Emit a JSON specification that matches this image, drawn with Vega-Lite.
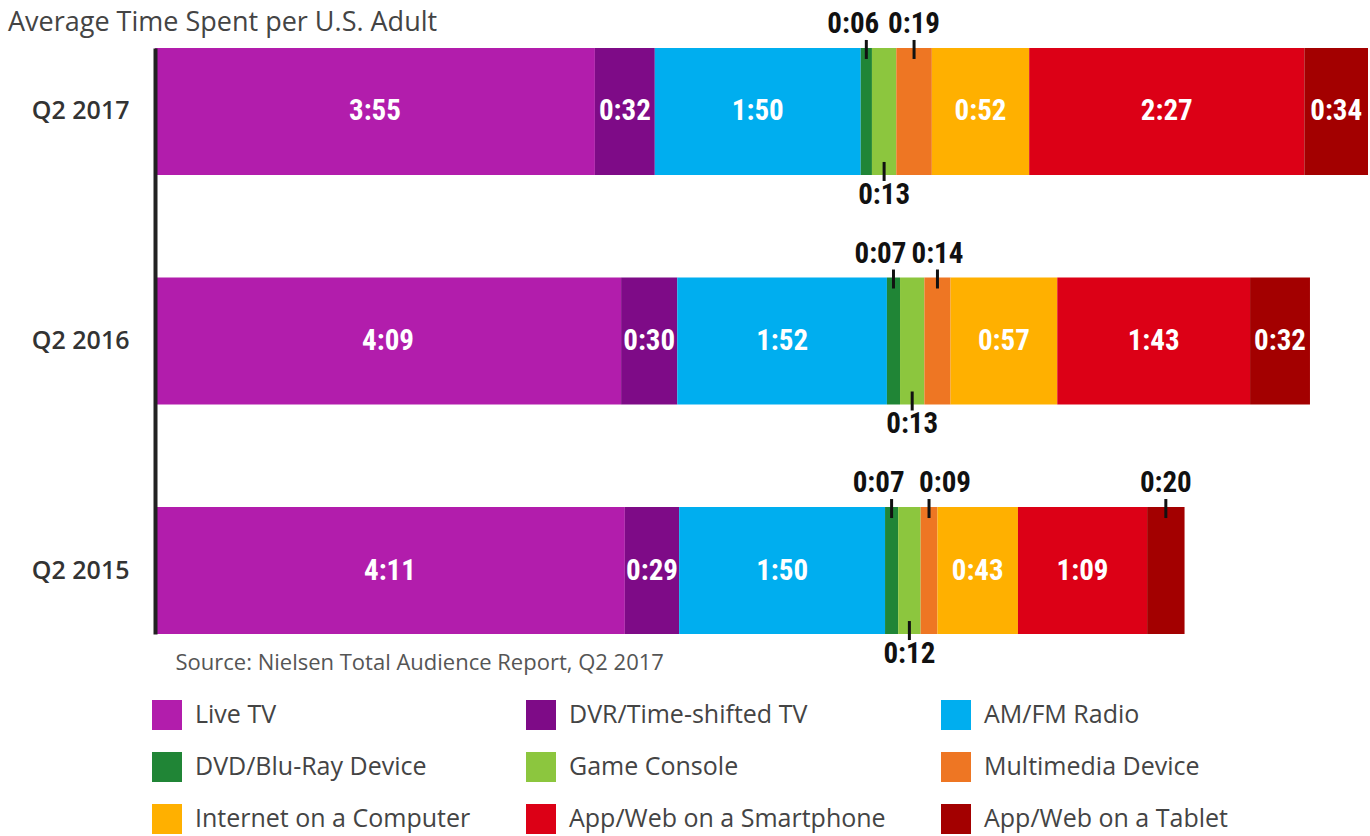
{
  "$schema": "https://vega.github.io/schema/vega-lite/v6.json",
  "width": 1213,
  "height": 586,
  "autosize": {"type": "none"},
  "padding": {"left": 155, "top": 48, "right": 2, "bottom": 202},
  "background": "white",
  "title": {
    "text": "Average Time Spent per U.S. Adult",
    "anchor": "start",
    "frame": "group",
    "dx": -147,
    "offset": -27,
    "font": "Open Sans",
    "fontSize": 27,
    "fontWeight": "normal",
    "color": "#444444"
  },
  "config": {
    "view": {"stroke": null},
    "legend": {
      "orient": "none",
      "legendX": -3,
      "legendY": 652,
      "direction": "horizontal",
      "columns": 3,
      "symbolType": "square",
      "symbolSize": 900,
      "symbolStrokeWidth": 0,
      "symbolOpacity": 1,
      "labelFont": "Open Sans",
      "labelFontSize": 25,
      "labelColor": "#444444",
      "labelOffset": 13,
      "labelLimit": 0,
      "rowPadding": 22,
      "columnPadding": 55,
      "title": null
    }
  },
  "data": {
    "values": [
      {"quarter": "Q2 2017", "category": "Live TV", "minutes": 235, "label": "3:55", "order": 1},
      {"quarter": "Q2 2017", "category": "DVR/Time-shifted TV", "minutes": 32, "label": "0:32", "order": 2},
      {"quarter": "Q2 2017", "category": "AM/FM Radio", "minutes": 110, "label": "1:50", "order": 3},
      {"quarter": "Q2 2017", "category": "DVD/Blu-Ray Device", "minutes": 6, "label": "0:06", "order": 4},
      {"quarter": "Q2 2017", "category": "Game Console", "minutes": 13, "label": "0:13", "order": 5},
      {"quarter": "Q2 2017", "category": "Multimedia Device", "minutes": 19, "label": "0:19", "order": 6},
      {"quarter": "Q2 2017", "category": "Internet on a Computer", "minutes": 52, "label": "0:52", "order": 7},
      {"quarter": "Q2 2017", "category": "App/Web on a Smartphone", "minutes": 147, "label": "2:27", "order": 8},
      {"quarter": "Q2 2017", "category": "App/Web on a Tablet", "minutes": 34, "label": "0:34", "order": 9},
      {"quarter": "Q2 2016", "category": "Live TV", "minutes": 249, "label": "4:09", "order": 1},
      {"quarter": "Q2 2016", "category": "DVR/Time-shifted TV", "minutes": 30, "label": "0:30", "order": 2},
      {"quarter": "Q2 2016", "category": "AM/FM Radio", "minutes": 112, "label": "1:52", "order": 3},
      {"quarter": "Q2 2016", "category": "DVD/Blu-Ray Device", "minutes": 7, "label": "0:07", "order": 4},
      {"quarter": "Q2 2016", "category": "Game Console", "minutes": 13, "label": "0:13", "order": 5},
      {"quarter": "Q2 2016", "category": "Multimedia Device", "minutes": 14, "label": "0:14", "order": 6},
      {"quarter": "Q2 2016", "category": "Internet on a Computer", "minutes": 57, "label": "0:57", "order": 7},
      {"quarter": "Q2 2016", "category": "App/Web on a Smartphone", "minutes": 103, "label": "1:43", "order": 8},
      {"quarter": "Q2 2016", "category": "App/Web on a Tablet", "minutes": 32, "label": "0:32", "order": 9},
      {"quarter": "Q2 2015", "category": "Live TV", "minutes": 251, "label": "4:11", "order": 1},
      {"quarter": "Q2 2015", "category": "DVR/Time-shifted TV", "minutes": 29, "label": "0:29", "order": 2},
      {"quarter": "Q2 2015", "category": "AM/FM Radio", "minutes": 110, "label": "1:50", "order": 3},
      {"quarter": "Q2 2015", "category": "DVD/Blu-Ray Device", "minutes": 7, "label": "0:07", "order": 4},
      {"quarter": "Q2 2015", "category": "Game Console", "minutes": 12, "label": "0:12", "order": 5},
      {"quarter": "Q2 2015", "category": "Multimedia Device", "minutes": 9, "label": "0:09", "order": 6},
      {"quarter": "Q2 2015", "category": "Internet on a Computer", "minutes": 43, "label": "0:43", "order": 7},
      {"quarter": "Q2 2015", "category": "App/Web on a Smartphone", "minutes": 69, "label": "1:09", "order": 8},
      {"quarter": "Q2 2015", "category": "App/Web on a Tablet", "minutes": 20, "label": "0:20", "order": 9}
    ]
  },
  "transform": [
    {"stack": "minutes", "groupby": ["quarter"], "sort": [{"field": "order", "order": "ascending"}], "as": ["x0", "x1"]},
    {"calculate": "(datum.x0 + datum.x1) / 2", "as": "xmid"}
  ],
  "layer": [
    {
      "mark": {"type": "bar", "stroke": null},
      "encoding": {
        "x": {
          "field": "x0", "type": "quantitative",
          "scale": {"domain": [0, 648], "nice": false, "zero": true},
          "axis": {
            "labels": false, "ticks": false, "domain": false, "grid": false,
            "title": "Source: Nielsen Total Audience Report, Q2 2017",
            "titleAnchor": "start", "titleAlign": "left", "titleX": 20, "titleY": 28,
            "titleBaseline": "middle", "titleFont": "Open Sans", "titleFontSize": 22,
            "titleFontWeight": "normal", "titleColor": "#555555"
          }
        },
        "x2": {"field": "x1"},
        "y": {
          "field": "quarter", "type": "nominal",
          "sort": ["Q2 2017", "Q2 2016", "Q2 2015"],
          "scale": {"paddingInner": 0.447, "paddingOuter": 0},
          "axis": {
            "title": null, "ticks": false, "labelPadding": 26,
            "labelFont": "Open Sans", "labelFontSize": 25, "labelFontWeight": 600,
            "labelColor": "#333333", "domainColor": "#222222", "domainWidth": 4,
            "zindex": 1
          }
        },
        "color": {
          "field": "category", "type": "nominal",
          "scale": {
            "domain": ["Live TV", "DVR/Time-shifted TV", "AM/FM Radio", "DVD/Blu-Ray Device", "Game Console", "Multimedia Device", "Internet on a Computer", "App/Web on a Smartphone", "App/Web on a Tablet"],
            "range": ["#B21DAC", "#7E0B87", "#00AEEF", "#208536", "#8CC63E", "#EE7623", "#FFB000", "#DC0016", "#A30000"]
          }
        }
      }
    },
    {
      "transform": [{"filter": "datum.category != 'DVD/Blu-Ray Device' && datum.category != 'Game Console' && datum.category != 'Multimedia Device' && !(datum.category == 'App/Web on a Tablet' && datum.quarter == 'Q2 2015')"}],
      "mark": {"type": "text", "color": "white", "font": "Liberation Sans Narrow, Roboto Condensed, DejaVu Sans Condensed, sans-serif", "fontWeight": "bold", "fontSize": 29, "baseline": "middle", "align": "center"},
      "encoding": {
        "x": {"field": "xmid", "type": "quantitative"},
        "y": {"field": "quarter", "type": "nominal", "sort": ["Q2 2017", "Q2 2016", "Q2 2015"]},
        "text": {"field": "label"}
      }
    },
    {
      "transform": [{"filter": "datum.category == 'DVD/Blu-Ray Device' || datum.category == 'Multimedia Device' || (datum.category == 'App/Web on a Tablet' && datum.quarter == 'Q2 2015')"}],
      "mark": {"type": "tick", "orient": "vertical", "size": 19, "thickness": 3, "color": "#111111", "opacity": 1, "yOffset": -62},
      "encoding": {
        "x": {"field": "xmid", "type": "quantitative"},
        "y": {"field": "quarter", "type": "nominal", "sort": ["Q2 2017", "Q2 2016", "Q2 2015"]}
      }
    },
    {
      "transform": [{"filter": "datum.category == 'Game Console'"}],
      "mark": {"type": "tick", "orient": "vertical", "size": 19, "thickness": 3, "color": "#111111", "opacity": 1, "yOffset": 60},
      "encoding": {
        "x": {"field": "xmid", "type": "quantitative"},
        "y": {"field": "quarter", "type": "nominal", "sort": ["Q2 2017", "Q2 2016", "Q2 2015"]}
      }
    },
    {
      "transform": [{"filter": "datum.category == 'DVD/Blu-Ray Device'"}],
      "mark": {"type": "text", "color": "#111111", "font": "Liberation Sans Narrow, Roboto Condensed, DejaVu Sans Condensed, sans-serif", "fontWeight": "bold", "fontSize": 29, "baseline": "alphabetic", "align": "center", "dy": -15, "dx": -13},
      "encoding": {
        "x": {"field": "xmid", "type": "quantitative"},
        "y": {"field": "quarter", "type": "nominal", "sort": ["Q2 2017", "Q2 2016", "Q2 2015"], "bandPosition": 0},
        "text": {"field": "label"}
      }
    },
    {
      "transform": [{"filter": "(datum.category == 'Multimedia Device' && datum.quarter != 'Q2 2015') || (datum.category == 'App/Web on a Tablet' && datum.quarter == 'Q2 2015')"}],
      "mark": {"type": "text", "color": "#111111", "font": "Liberation Sans Narrow, Roboto Condensed, DejaVu Sans Condensed, sans-serif", "fontWeight": "bold", "fontSize": 29, "baseline": "alphabetic", "align": "center", "dy": -15},
      "encoding": {
        "x": {"field": "xmid", "type": "quantitative"},
        "y": {"field": "quarter", "type": "nominal", "sort": ["Q2 2017", "Q2 2016", "Q2 2015"], "bandPosition": 0},
        "text": {"field": "label"}
      }
    },
    {
      "transform": [{"filter": "datum.category == 'Multimedia Device' && datum.quarter == 'Q2 2015'"}],
      "mark": {"type": "text", "color": "#111111", "font": "Liberation Sans Narrow, Roboto Condensed, DejaVu Sans Condensed, sans-serif", "fontWeight": "bold", "fontSize": 29, "baseline": "alphabetic", "align": "center", "dy": -15, "dx": 16},
      "encoding": {
        "x": {"field": "xmid", "type": "quantitative"},
        "y": {"field": "quarter", "type": "nominal", "sort": ["Q2 2017", "Q2 2016", "Q2 2015"], "bandPosition": 0},
        "text": {"field": "label"}
      }
    },
    {
      "transform": [{"filter": "datum.category == 'Game Console'"}],
      "mark": {"type": "text", "color": "#111111", "font": "Liberation Sans Narrow, Roboto Condensed, DejaVu Sans Condensed, sans-serif", "fontWeight": "bold", "fontSize": 29, "baseline": "top", "align": "center", "dy": 6},
      "encoding": {
        "x": {"field": "xmid", "type": "quantitative"},
        "y": {"field": "quarter", "type": "nominal", "sort": ["Q2 2017", "Q2 2016", "Q2 2015"], "bandPosition": 1},
        "text": {"field": "label"}
      }
    }
  ]
}
